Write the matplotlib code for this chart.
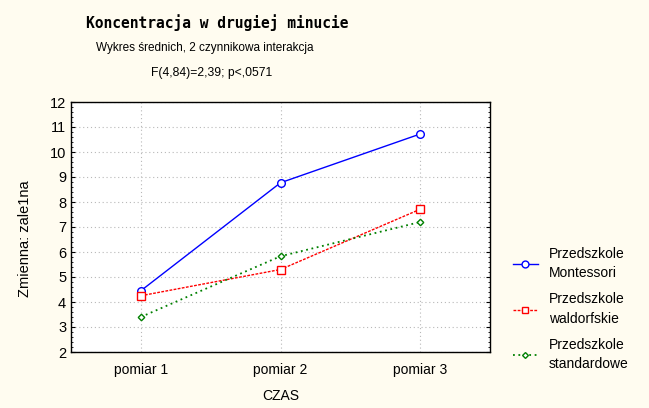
import numpy as np
import matplotlib.pyplot as plt
from matplotlib.ticker import MultipleLocator

plt.rcParams['font.family'] = ['Liberation Sans', 'DejaVu Sans']

categories = ['pomiar 1', 'pomiar 2', 'pomiar 3']
montessori = [4.45, 8.77, 10.72]
waldorf = [4.25, 5.3, 7.71]
standard = [3.4, 5.83, 7.2]
series_names = ['Przedszkole\nMontessori', 'Przedszkole\nwaldorfskie', 'Przedszkole\nstandardowe']

bg = '#fffcf0'
fig = plt.figure(figsize=(6.49, 4.08), dpi=100, facecolor=bg)
ax = fig.add_axes([71/649, 1 - 352/408, (490-71)/649, (352-102)/408])

x = np.arange(1, len(categories) + 1)
l1, = ax.plot(x, montessori, '-', color='#0000ff', lw=1.0, marker='o', ms=5.5,
              mfc='white', mec='#0000ff', mew=1.0)
l2, = ax.plot(x, waldorf, linestyle=(0, (2, 1)), color='#ff0000', lw=1.0, marker='s', ms=5.5,
              mfc='white', mec='#ff0000', mew=1.0)
l3, = ax.plot(x, standard, linestyle=(0, (1, 2)), color='#008000', lw=1.3, marker='D', ms=3.3,
              mfc='white', mec='#008000', mew=1.0)

ax.set_xlim(0.5, 3.5)
ax.set_ylim(2, 12)
ax.set_xticks(x)
ax.set_xticklabels(categories, fontsize=10)
ax.yaxis.set_major_locator(MultipleLocator(1))
ax.yaxis.set_minor_locator(MultipleLocator(0.2))
ax.tick_params(axis='y', which='major', direction='in', length=3, right=True, labelsize=10.5)
ax.tick_params(axis='y', which='minor', direction='in', length=1.5, right=True)
ax.tick_params(axis='x', which='major', direction='in', length=0, labelsize=10, pad=8)
ax.grid(True, color='#b8b8b8', linestyle=(0, (1, 2.5)), lw=0.8)
for s in ax.spines.values():
    s.set_linewidth(1.0)
    s.set_color('black')

ax.set_xlabel('CZAS', fontsize=10)
ax.xaxis.set_label_coords(0.5, -(389 - 352) / 250, transform=ax.transAxes)
ax.set_ylabel('Zmienna: zale1na', fontsize=10.5)
ax.yaxis.set_label_coords(-(71 - 32) / 419, (352 - 239) / 250, transform=ax.transAxes)

fig.text(217/649, 1 - 23/408, 'Koncentracja w drugiej minucie', ha='center', va='center',
         fontsize=10.5, fontweight='bold', family='DejaVu Sans Mono')
fig.text(205/649, 1 - 48/408, 'Wykres średnich, 2 czynnikowa interakcja', ha='center', va='center',
         fontsize=8.5)
fig.text(212/649, 1 - 73/408, 'F(4,84)=2,39; p<,0571', ha='center', va='center', fontsize=8.7)

leg = fig.legend([l1, l2, l3], series_names, loc='center left', bbox_to_anchor=(500/649, 1 - 309/408),
                 frameon=False, fontsize=10, handlelength=1.8, handletextpad=0.8, labelspacing=0.85,
                 markerscale=0.9)
for t in leg.get_texts():
    t.set_linespacing(1.5)

fig.savefig('out.png', dpi=100, facecolor=bg)
